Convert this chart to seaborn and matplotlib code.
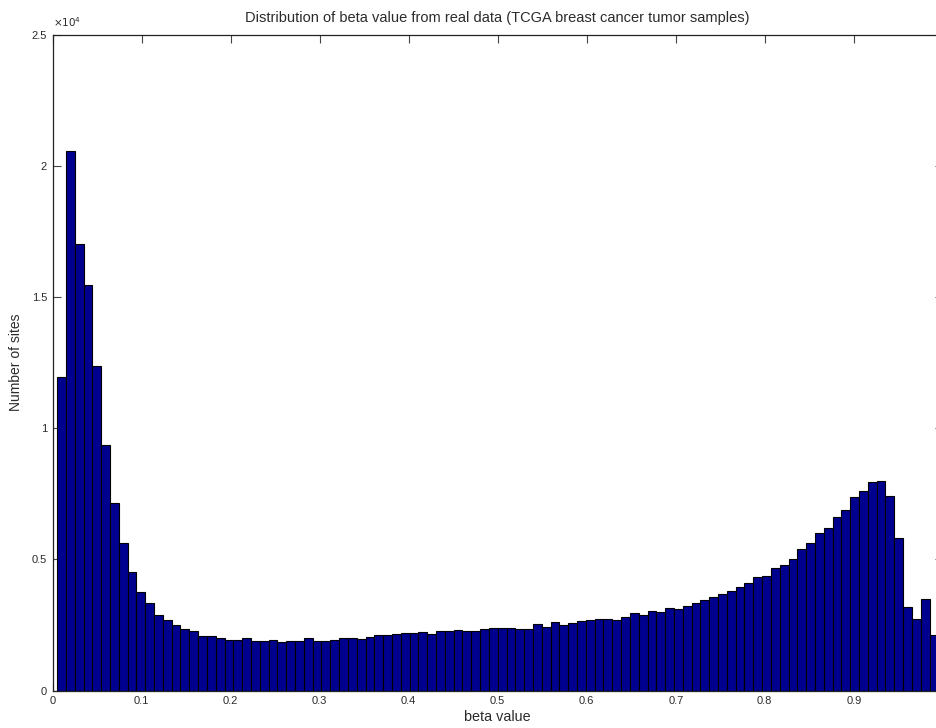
import numpy as np
import pandas as pd
import matplotlib
matplotlib.use("Agg")
import matplotlib.pyplot as plt
from matplotlib.ticker import FuncFormatter
import seaborn as sns

# Histogram of methylation beta values: 100 equal-width bins between the
# smallest and largest observed value, with the count of CpG sites per bin.
beta_min = 0.005
beta_max = 0.995
n_bins = 100

site_counts = [
    11970, 20560, 17000, 15450, 12360, 9350, 7150, 5620, 4520, 3770,
    3350, 2870, 2690, 2500, 2350, 2280, 2070, 2070, 2010, 1940,
    1940, 2010, 1890, 1890, 1940, 1840, 1910, 1910, 2010, 1910,
    1910, 1950, 2020, 2020, 1960, 2060, 2120, 2120, 2170, 2200,
    2200, 2230, 2160, 2260, 2260, 2300, 2260, 2260, 2360, 2400,
    2400, 2400, 2360, 2360, 2540, 2430, 2610, 2500, 2570, 2640,
    2680, 2740, 2740, 2690, 2810, 2950, 2890, 3050, 3010, 3140,
    3110, 3220, 3330, 3460, 3560, 3670, 3800, 3970, 4120, 4320,
    4360, 4660, 4790, 5010, 5390, 5640, 6020, 6190, 6630, 6870,
    7380, 7600, 7940, 7980, 7420, 5820, 3190, 2730, 3480, 2110,
]

x_ticks = [0, 0.1, 0.2, 0.3, 0.4, 0.5, 0.6, 0.7, 0.8, 0.9]
x_tick_labels = ["0", "0.1", "0.2", "0.3", "0.4", "0.5", "0.6", "0.7", "0.8", "0.9"]
y_ticks = [0, 5000, 10000, 15000, 20000, 25000]

edges = np.linspace(beta_min, beta_max, n_bins + 1)
centers = (edges[:-1] + edges[1:]) / 2
df = pd.DataFrame({"beta": centers, "sites": site_counts})

sns.set_style("ticks")
plt.rcParams["font.family"] = ["Liberation Sans", "DejaVu Sans"]
text_color = "#2b2b2b"

fig = plt.figure(figsize=(9.37, 7.28), dpi=100)
ax = fig.add_axes([0.0562, 0.0512, 0.9500, 0.9014])

sns.histplot(
    data=df, x="beta", weights="sites", bins=n_bins,
    binrange=(beta_min, beta_max), ax=ax,
    color="#00008F", edgecolor="black", linewidth=0.8, alpha=1.0,
)

ax.set_xlim(0, 1)
ax.set_ylim(0, 25000)
ax.set_xticks(x_ticks)
ax.set_xticklabels(x_tick_labels)
ax.set_yticks(y_ticks)
ax.yaxis.set_major_formatter(FuncFormatter(lambda v, p: f"{v / 1e4:g}"))

ax.tick_params(axis="both", direction="in", length=5.8, width=0.8,
               top=True, right=True, labelsize=8, colors="#444444",
               labelcolor=text_color, pad=4)
for side in ["left", "bottom", "top", "right"]:
    ax.spines[side].set_visible(True)
    ax.spines[side].set_color("#222222")
    ax.spines[side].set_linewidth(0.9)

ax.set_xlabel("beta value", fontsize=10.4, color=text_color, labelpad=3)
ax.set_ylabel("Number of sites", fontsize=10, color=text_color, labelpad=6)
ax.set_title("Distribution of beta value from real data (TCGA breast cancer tumor samples)",
             fontsize=10.5, color=text_color, pad=9)
ax.text(0.0, 1.008, r"$\times10^{4}$", transform=ax.transAxes,
        fontsize=7.5, color=text_color, ha="left", va="bottom")

fig.savefig("out.png", dpi=100)
